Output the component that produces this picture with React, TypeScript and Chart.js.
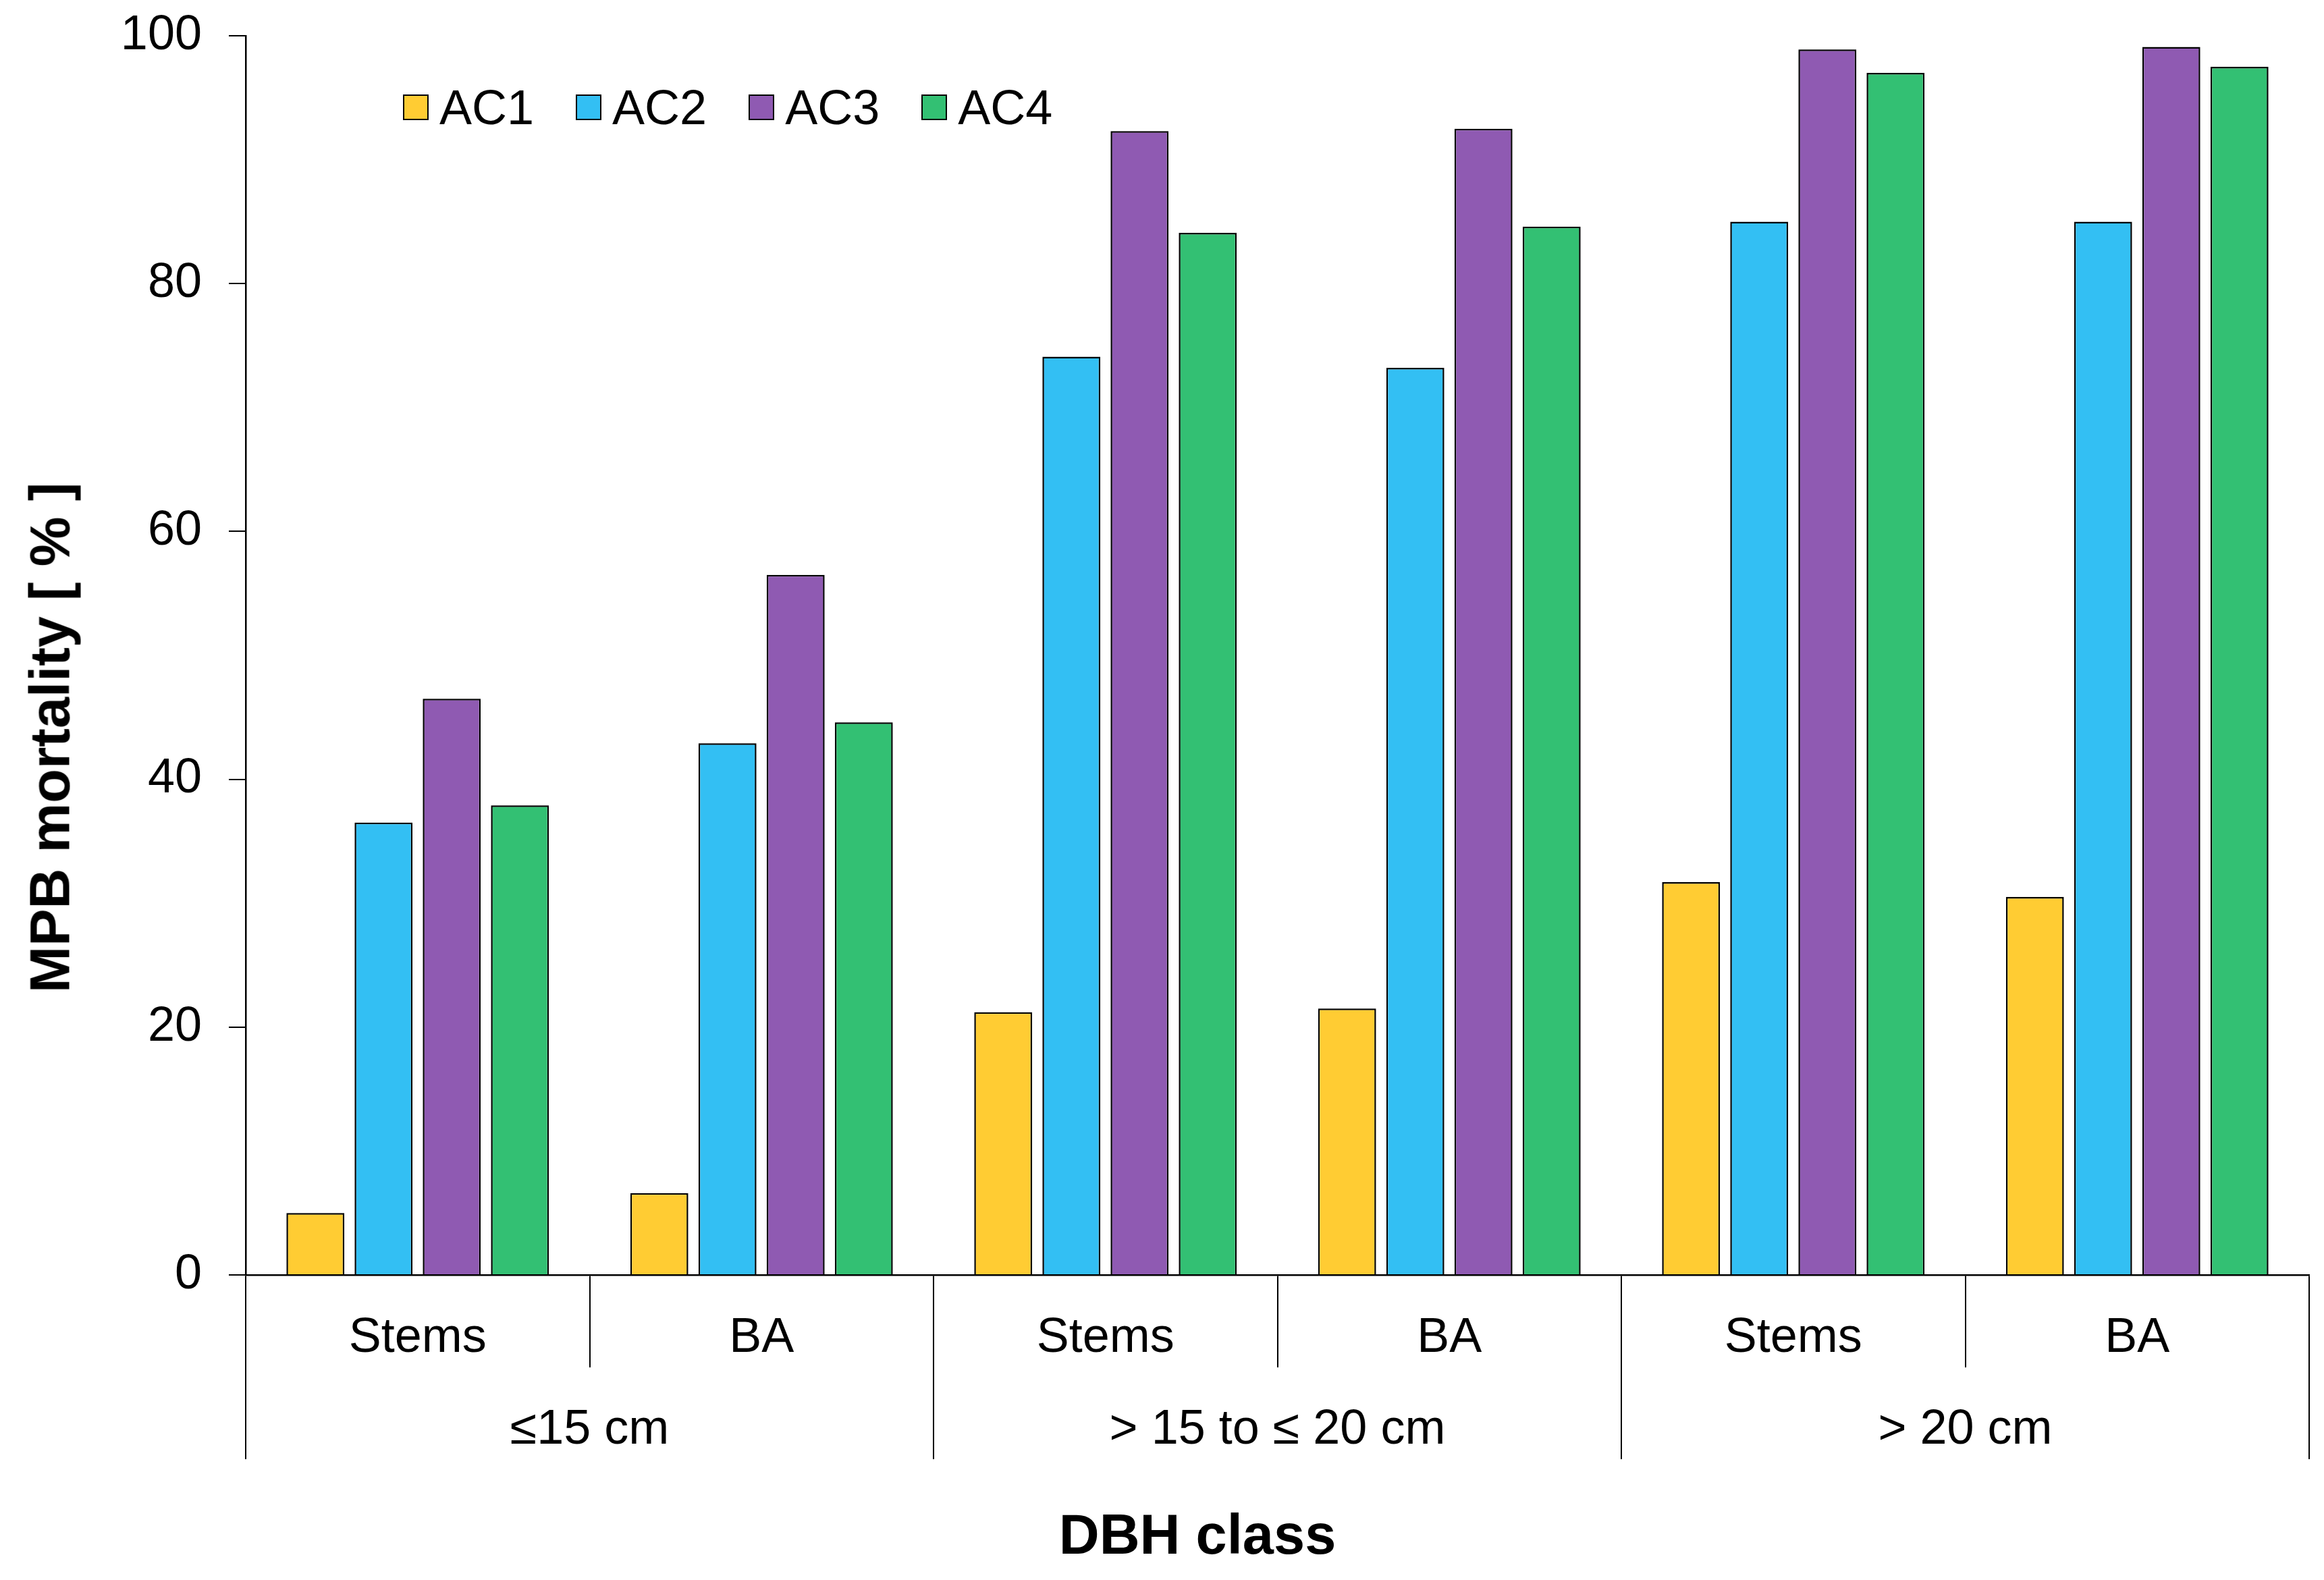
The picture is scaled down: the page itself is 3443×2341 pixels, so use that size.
import { useEffect, useRef } from 'react';
import { Chart, registerables } from 'chart.js';

Chart.register(...registerables);

const subLabels = ['Stems', 'BA', 'Stems', 'BA', 'Stems', 'BA'];
const groupLabels = ['≤15 cm', '> 15 to ≤ 20 cm', '> 20 cm'];
const seriesNames = ['AC1', 'AC2', 'AC3', 'AC4'];
const seriesColors = ['#FFCC33', '#33BFF3', '#8F5AB2', '#33C073'];

const ac1 = [5.0, 6.6, 21.2, 21.5, 31.7, 30.5];
const ac2 = [36.5, 42.9, 74.1, 73.2, 85.0, 85.0];
const ac3 = [46.5, 56.5, 92.3, 92.5, 98.9, 99.1];
const ac4 = [37.9, 44.6, 84.1, 84.6, 97.0, 97.5];
const seriesValues = [ac1, ac2, ac3, ac4];

const yTicks = [0, 20, 40, 60, 80, 100];

const W = 3443;
const H = 2341;
const FONT = '"Liberation Sans", Arial, sans-serif';

export default function App() {
  const canvasRef = useRef<HTMLCanvasElement>(null);

  useEffect(() => {
    if (!canvasRef.current) return;
    const chart = new Chart(canvasRef.current, {
      type: 'bar',
      data: {
        labels: subLabels,
        datasets: seriesNames.map((name, i) => ({
          label: name,
          data: seriesValues[i],
          backgroundColor: seriesColors[i],
          borderColor: '#000000',
          borderWidth: 2.5,
          borderSkipped: 'bottom',
          categoryPercentage: 0.793,
          barPercentage: 0.85,
        })),
      },
      options: {
        animation: false,
        responsive: false,
        devicePixelRatio: 1,
        layout: { padding: { top: 53, right: 22, bottom: 179, left: 0 } },
        plugins: {
          legend: { display: false },
          tooltip: { enabled: false },
        },
        scales: {
          x: {
            type: 'category',
            position: 'bottom',
            weight: 1,
            offset: true,
            border: { display: true, color: '#000', width: 2.5 },
            grid: {
              offset: true,
              drawOnChartArea: false,
              drawTicks: true,
              tickLength: 137,
              color: '#000',
              lineWidth: 2,
            },
            ticks: {
              color: '#000',
              font: { family: FONT, size: 72 },
              padding: -86,
              maxRotation: 0,
              autoSkip: false,
            },
            afterFit: (s: any) => { s.height = 137; },
          },
          x2: {
            type: 'category',
            position: 'bottom',
            weight: 2,
            labels: groupLabels,
            offset: true,
            border: { display: false },
            grid: {
              offset: true,
              drawOnChartArea: false,
              drawTicks: true,
              tickLength: 136,
              color: '#000',
              lineWidth: 2,
            },
            ticks: {
              color: '#000',
              font: { family: FONT, size: 72 },
              padding: -86,
              maxRotation: 0,
              autoSkip: false,
            },
            afterFit: (s: any) => { s.height = 136; },
          },
          y: {
            min: 0,
            max: 100,
            afterBuildTicks: (s: any) => { s.ticks = yTicks.map(v => ({ value: v })); },
            border: { display: true, color: '#000', width: 2.5 },
            grid: {
              drawOnChartArea: false,
              drawTicks: true,
              tickLength: 25,
              color: '#000',
              lineWidth: 2,
            },
            ticks: {
              color: '#000',
              font: { family: FONT, size: 72 },
              padding: 40,
            },
            afterFit: (s: any) => {
              s.width = 364;
              s.paddingTop = 0;
              s.paddingBottom = 0;
            },
          },
        },
      },
    });
    return () => { chart.destroy(); };
  }, []);

  return (
    <div style={{ position: 'fixed', left: 0, top: 0, width: W, height: H, background: '#fff', fontFamily: FONT }}>
      <canvas ref={canvasRef} width={W} height={H} style={{ display: 'block' }} />

      {/* Legend */}
      <div style={{ position: 'absolute', left: 597, top: 140, height: 38, display: 'flex', alignItems: 'center', gap: 62 }}>
        {seriesNames.map((name, i) => (
          <div key={name} style={{ display: 'flex', alignItems: 'center', height: 38 }}>
            <div style={{ width: 38, height: 38, boxSizing: 'border-box', border: '2px solid #000', background: seriesColors[i] }} />
            <span style={{ marginLeft: 16, fontSize: 72, lineHeight: '38px', color: '#000', whiteSpace: 'nowrap' }}>{name}</span>
          </div>
        ))}
      </div>

      {/* Axis titles */}
      <div style={{
        position: 'absolute', left: 74, top: 1093, transform: 'translate(-50%, -50%) rotate(-90deg)',
        fontSize: 83, fontWeight: 'bold', lineHeight: 1, whiteSpace: 'nowrap', color: '#000',
      }}>MPB mortality [ % ]</div>
      <div style={{
        position: 'absolute', left: 1774, top: 2273, transform: 'translate(-50%, -50%)',
        fontSize: 83, fontWeight: 'bold', lineHeight: 1, whiteSpace: 'nowrap', color: '#000',
      }}>DBH class</div>
    </div>
  );
}
